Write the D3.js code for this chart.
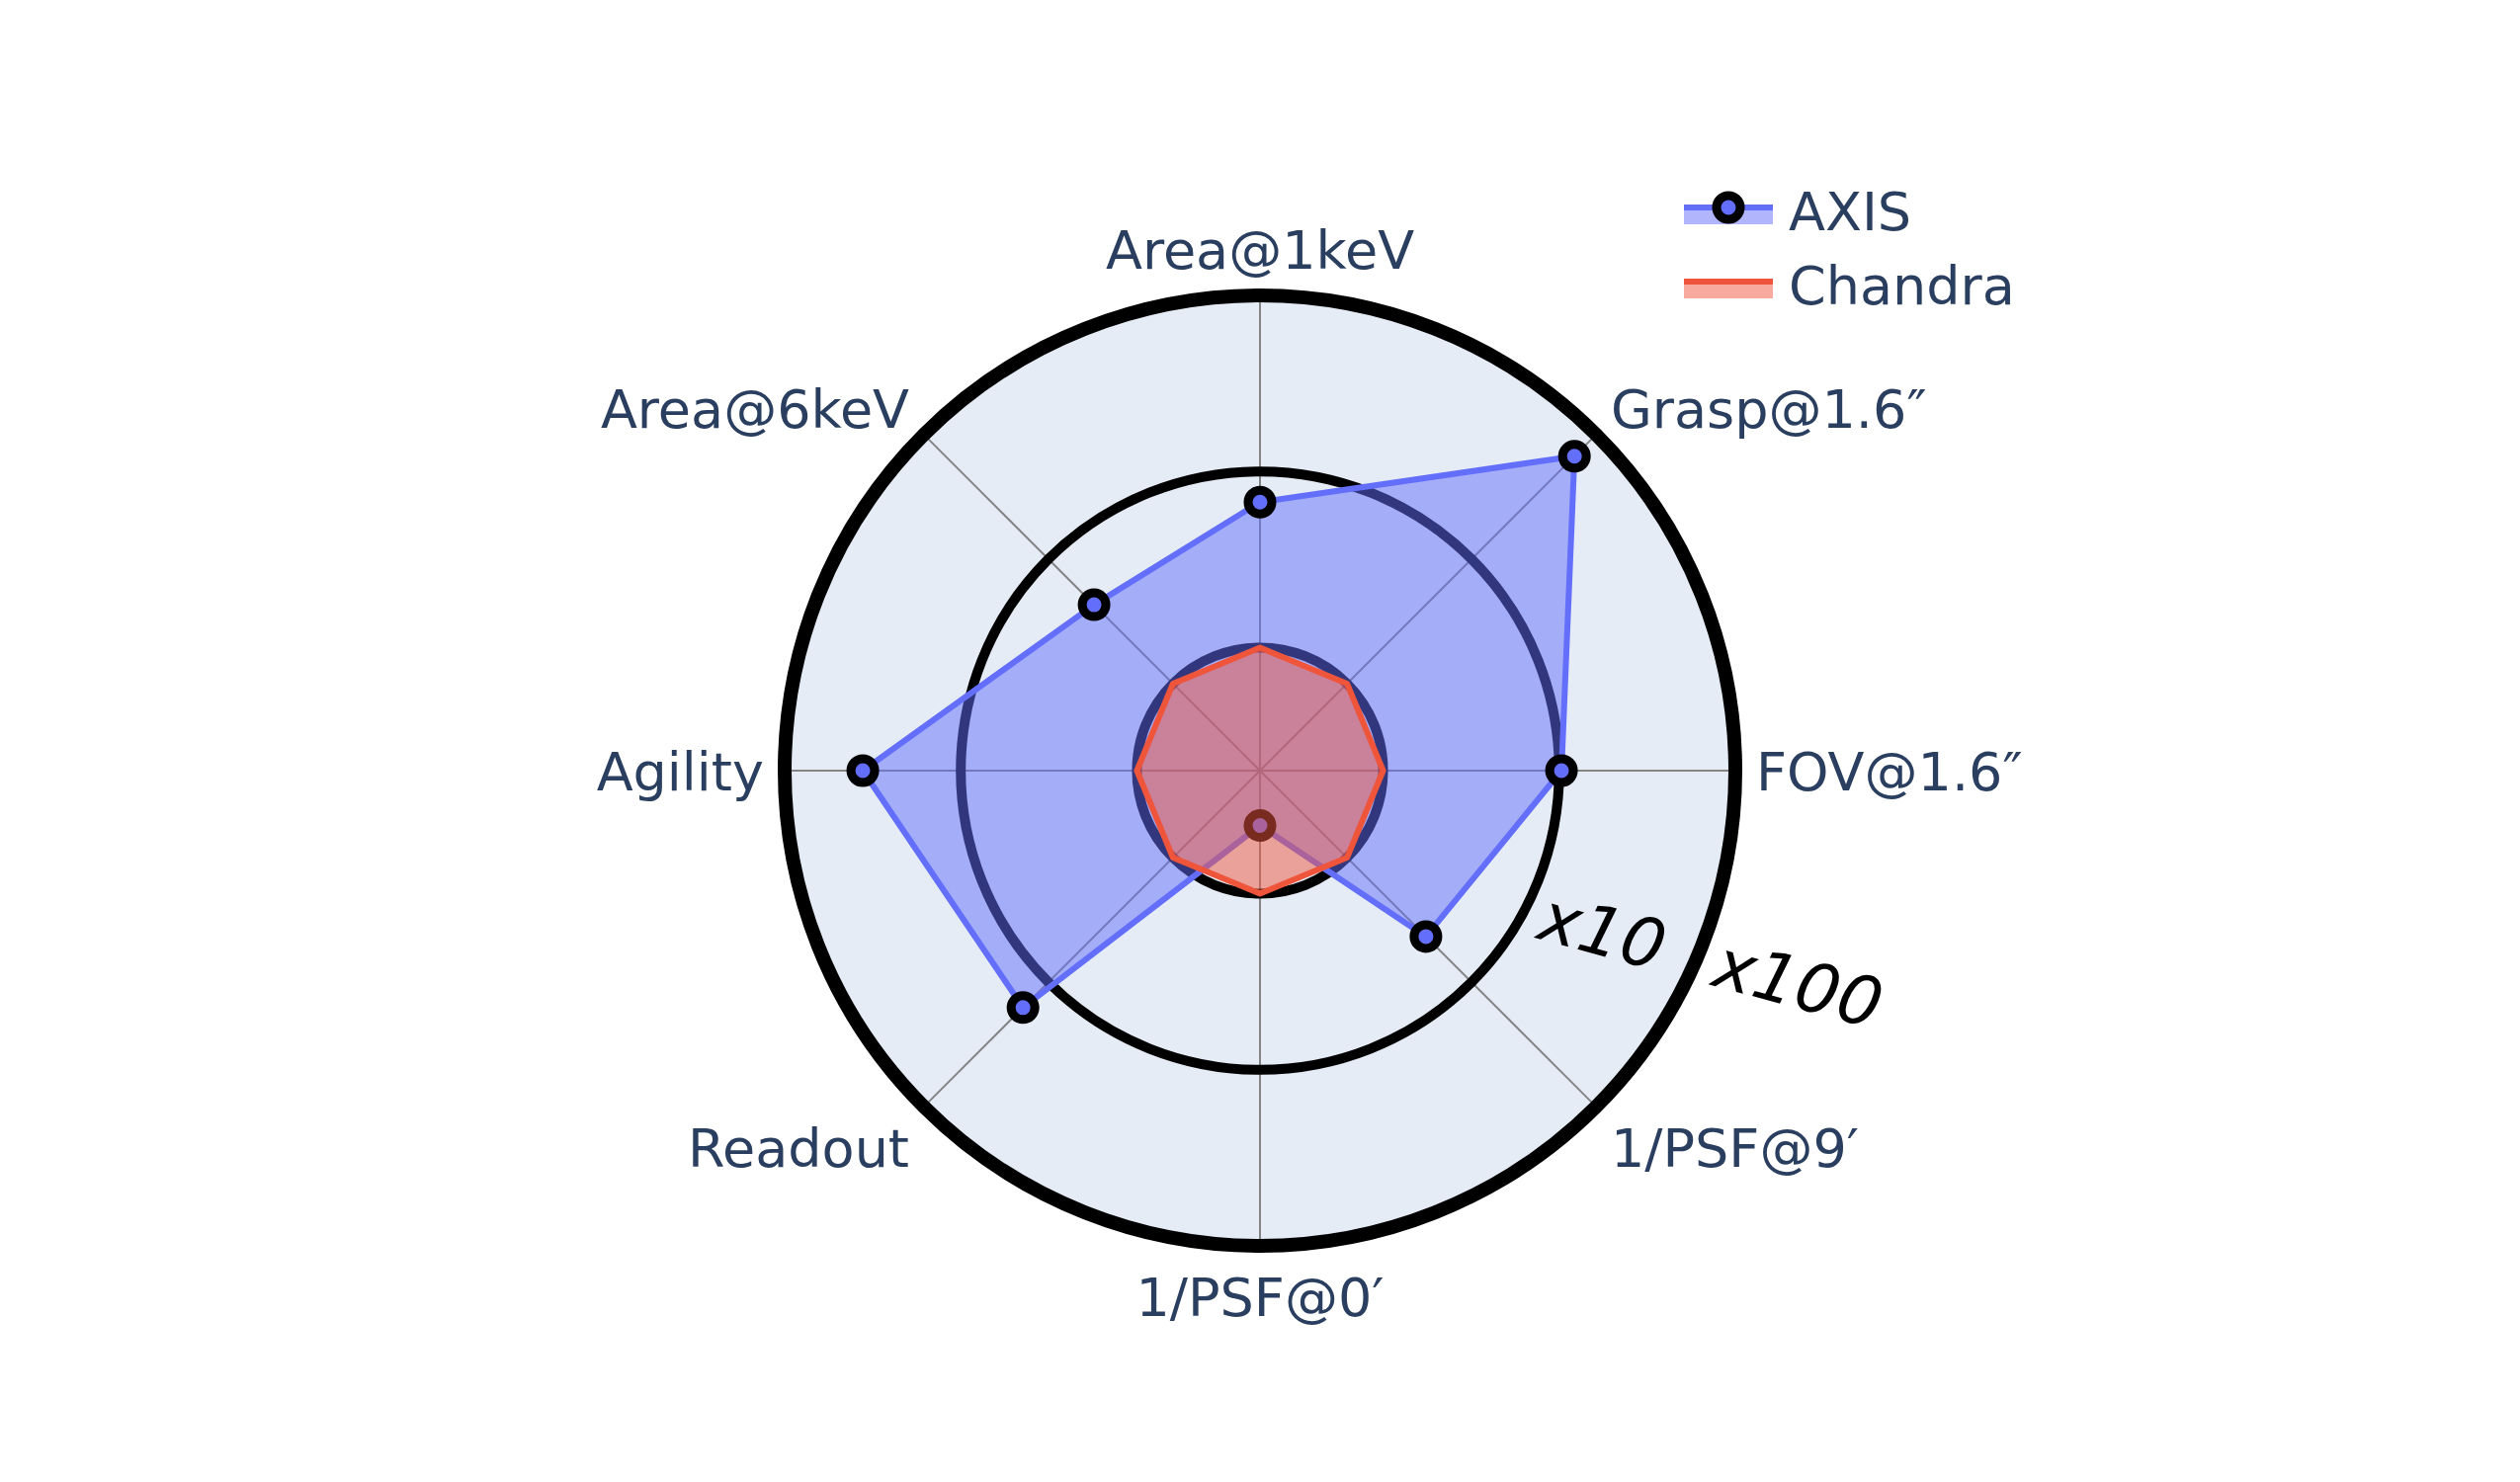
<!DOCTYPE html>
<html>
<head>
<meta charset="utf-8">
<script src="https://cdn.jsdelivr.net/npm/d3@7"></script>
<style>
  body { margin: 0; background: #fff; }
  svg { display: block; }
</style>
</head>
<body>
<div id="chart"></div>
<script>
// categories go clockwise from the top
var categories = ["Area@1keV", "Grasp@1.6\u2033", "FOV@1.6\u2033", "1/PSF@9\u2032",
                  "1/PSF@0\u2032", "Readout", "Agility", "Area@6keV"];
var axisValues = [6.7, 67, 10.3, 4.3, 0.41, 16, 36, 4.3];
var chandraValues = [1, 1, 1, 1, 1, 1, 1, 1];
var ringValues = [1, 10];
var ringLabels = ["x10", "x100"];
var radialDomain = [0.2, 100];

var width = 2550, height = 1500;
var cx = 1275, cy = 780, R = 481;

var svg = d3.select("#chart")
    .append("svg")
        .attr("width", width)
        .attr("height", height);

var g = svg.append("g")
    .attr("transform", "translate(" + cx + "," + cy + ")");

var rScale = d3.scaleLog()
    .domain(radialDomain)
    .range([0, R]);

var aScale = d3.scaleLinear()
    .domain([0, categories.length])
    .range([0, 2 * Math.PI]);

// background disk
g.append("circle")
    .attr("r", R)
    .attr("fill", "#e5ecf6");

// spokes
g.selectAll(".spoke")
    .data(categories)
    .enter()
    .append("line")
        .attr("class", "spoke")
        .attr("x1", 0).attr("y1", 0)
        .attr("x2", (d, i) => R * Math.sin(aScale(i)))
        .attr("y2", (d, i) => -R * Math.cos(aScale(i)))
        .attr("stroke", "#858585")
        .attr("stroke-width", 2);

// reference rings (x1, x10)
g.selectAll(".ring")
    .data(ringValues)
    .enter()
    .append("circle")
        .attr("class", "ring")
        .attr("r", d => rScale(d))
        .attr("fill", "none")
        .attr("stroke", "black")
        .attr("stroke-width", 10);

var radial = d3.lineRadial()
    .angle((d, i) => aScale(i))
    .radius(d => rScale(d))
    .curve(d3.curveLinearClosed);

// AXIS trace
g.append("path")
    .datum(axisValues)
    .attr("d", radial)
    .attr("fill", "rgba(99,110,250,0.5)")
    .attr("stroke", "#636efa")
    .attr("stroke-width", 6)
    .attr("stroke-linejoin", "round");

g.selectAll(".axis-pt")
    .data(axisValues)
    .enter()
    .append("circle")
        .attr("class", "axis-pt")
        .attr("cx", (d, i) => rScale(d) * Math.sin(aScale(i)))
        .attr("cy", (d, i) => -rScale(d) * Math.cos(aScale(i)))
        .attr("r", 12)
        .attr("fill", "#636efa")
        .attr("stroke", "black")
        .attr("stroke-width", 9);

// Chandra trace
g.append("path")
    .datum(chandraValues)
    .attr("d", radial)
    .attr("fill", "rgba(239,85,59,0.5)")
    .attr("stroke", "#ef553b")
    .attr("stroke-width", 6)
    .attr("stroke-linejoin", "round");

// outer line
g.append("circle")
    .attr("r", R)
    .attr("fill", "none")
    .attr("stroke", "black")
    .attr("stroke-width", 14);

// angular tick labels
var labR = 502;
// baseline shift depending on vertical direction of the spoke
var baseShift = d3.scaleLinear()
    .domain([-1, -0.707, 0, 0.707, 1])
    .range([-6, 8, 20, 46, 50]);
g.selectAll(".alabel")
    .data(categories)
    .enter()
    .append("text")
        .attr("class", "alabel")
        .attr("x", (d, i) => labR * Math.sin(aScale(i)))
        .attr("y", function (d, i) {
            var v = -Math.cos(aScale(i));
            return labR * v + baseShift(v);
        })
        .attr("text-anchor", function (d, i) {
            var s = Math.sin(aScale(i));
            return s > 0.1 ? "start" : (s < -0.1 ? "end" : "middle");
        })
        .style("font-family", "'DejaVu Sans', Verdana, sans-serif")
        .style("font-size", "54px")
        .attr("fill", "#2a3f5f")
        .text(d => d);

// ring annotations
var annPos = [[1622, 942], [1820, 995]];
svg.selectAll(".ann")
    .data(ringLabels)
    .enter()
    .append("text")
        .attr("class", "ann")
        .attr("transform", (d, i) => "translate(" + annPos[i][0] + "," + annPos[i][1] + ") rotate(15)")
        .attr("text-anchor", "middle")
        .attr("dy", "0.36em")
        .style("font-family", "'DejaVu Sans', Verdana, sans-serif")
        .style("font-style", "italic")
        .style("font-size", "69px")
        .attr("fill", "black")
        .text(d => d);

// legend
var legend = svg.append("g")
    .attr("transform", "translate(1704,0)");
var legendItems = [
    { name: "AXIS", line: "#636efa", fill: "rgba(99,110,250,0.5)", y: 210, marker: true },
    { name: "Chandra", line: "#ef553b", fill: "rgba(239,85,59,0.5)", y: 285, marker: false }
];
legendItems.forEach(function (d) {
    legend.append("rect")
        .attr("x", 0).attr("y", d.y)
        .attr("width", 90).attr("height", 17)
        .attr("fill", d.fill);
    legend.append("line")
        .attr("x1", 0).attr("x2", 90)
        .attr("y1", d.y).attr("y2", d.y)
        .attr("stroke", d.line)
        .attr("stroke-width", 6);
    if (d.marker) {
        legend.append("circle")
            .attr("cx", 45).attr("cy", d.y)
            .attr("r", 12)
            .attr("fill", d.line)
            .attr("stroke", "black")
            .attr("stroke-width", 9);
    }
    legend.append("text")
        .attr("x", 106)
        .attr("y", d.y + 23)
        .style("font-family", "'DejaVu Sans', Verdana, sans-serif")
        .style("font-size", "54px")
        .attr("fill", "#2a3f5f")
        .text(d.name);
});
</script>
</body>
</html>
